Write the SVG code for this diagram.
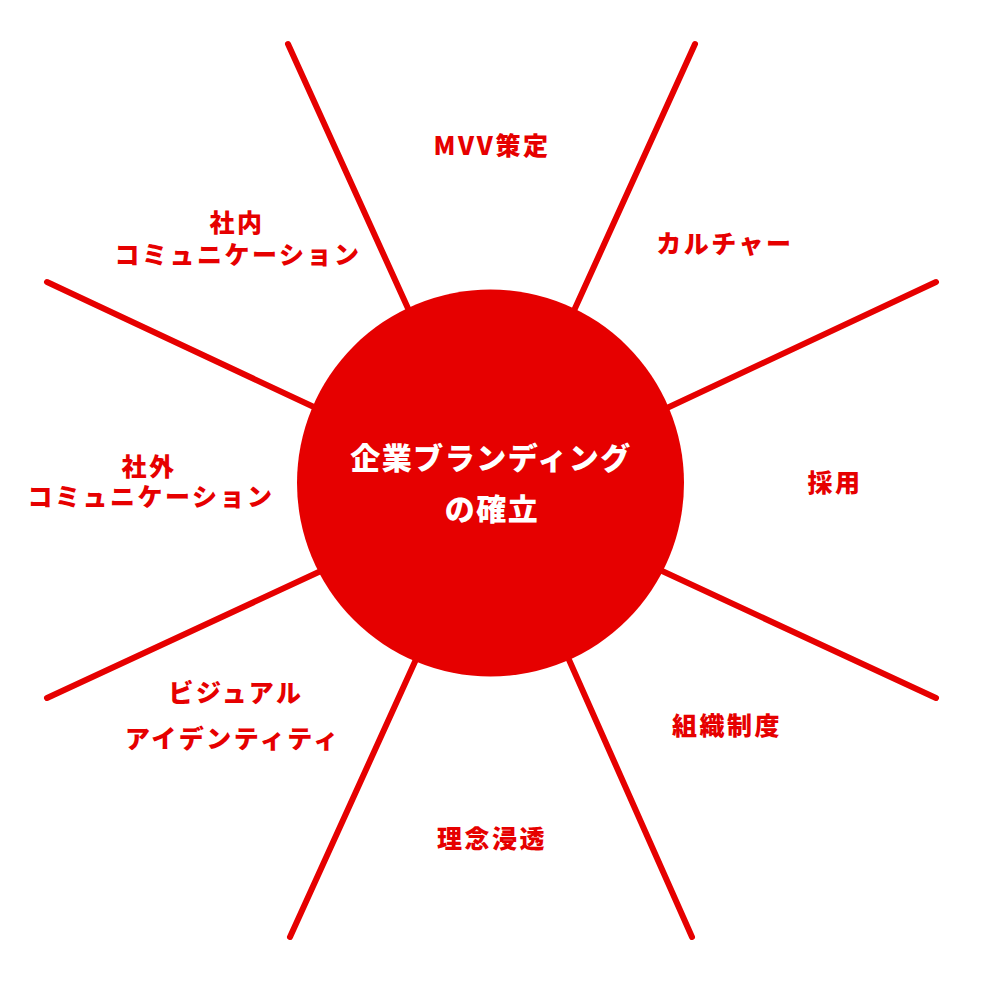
<svg xmlns="http://www.w3.org/2000/svg" width="982" height="982" viewBox="0 0 982 982">
<style>
.ln{stroke:#e60000;stroke-width:6;stroke-linecap:round;fill:none}
.lb{fill:#e60000;font-family:"Noto Sans CJK JP","Noto Sans",sans-serif;font-weight:900;font-size:25px;letter-spacing:2.5px;text-anchor:middle}
.ct{fill:#ffffff;font-family:"Noto Sans CJK JP","Noto Sans",sans-serif;font-weight:900;font-size:30px;letter-spacing:1.5px;text-anchor:middle}
</style>
<rect width="982" height="982" fill="#ffffff"/>
<g id="connectors">
<line class="ln" x1="288" y1="44" x2="416" y2="326"/>
<line class="ln" x1="695" y1="44" x2="567" y2="326"/>
<line class="ln" x1="936" y1="282" x2="652" y2="415"/>
<line class="ln" x1="936" y1="698" x2="647" y2="564"/>
<line class="ln" x1="692" y1="937" x2="562" y2="644"/>
<line class="ln" x1="290" y1="937" x2="423" y2="644"/>
<line class="ln" x1="47" y1="698" x2="336" y2="564"/>
<line class="ln" x1="47" y1="282" x2="331" y2="415"/>
</g>
<g id="center">
<circle cx="490.5" cy="483" r="193.5" fill="#e60000"/>
<text class="ct" x="491" y="469">企業ブランディング</text>
<text class="ct" x="492" y="520">の確立</text>
</g>
<g id="mvv"><text class="lb" x="492" y="155">MVV策定</text></g>
<g id="culture"><text class="lb" x="725" y="253">カルチャー</text></g>
<g id="recruit"><text class="lb" x="835" y="492">採用</text></g>
<g id="org"><text class="lb" x="727" y="735">組織制度</text></g>
<g id="philosophy"><text class="lb" x="492" y="848">理念浸透</text></g>
<g id="vi">
<text class="lb" x="236" y="702">ビジュアル</text>
<text class="lb" x="233" y="748">アイデンティティ</text>
</g>
<g id="external">
<text class="lb" x="149" y="476">社外</text>
<text class="lb" x="151" y="506">コミュニケーション</text>
</g>
<g id="internal">
<text class="lb" x="237" y="232">社内</text>
<text class="lb" x="238" y="264">コミュニケーション</text>
</g>
</svg>
